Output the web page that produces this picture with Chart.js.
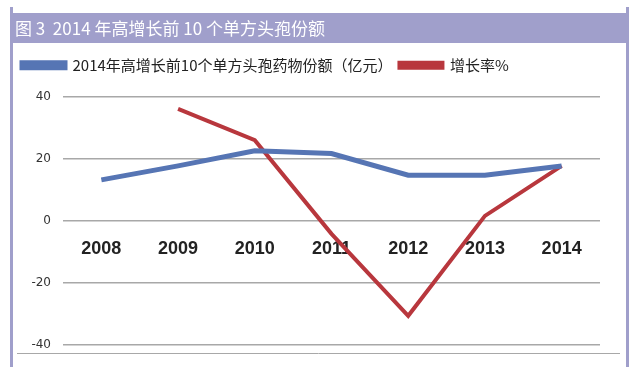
<!DOCTYPE html>
<html>
<head>
<meta charset="utf-8">
<script src="https://cdn.jsdelivr.net/npm/chart.js@4"></script>
<style>
  html, body { margin: 0; padding: 0; background: #fff; }
  #wrap { width: 632px; height: 367px; }
</style>
</head>
<body>
<div id="wrap"><canvas id="myChart"></canvas></div>
<script>
// data
const years = ['2008', '2009', '2010', '2011', '2012', '2013', '2014'];
const share = [13.2, 17.7, 22.6, 21.7, 14.7, 14.7, 17.7];
const growth = [null, 36.1, 26.0, -4.2, -30.6, 1.6, 17.7];
const yTicks = [-40, -20, 0, 20, 40];

const titleText = '图 3  2014 年高增长前 10 个单方头孢份额';
const shareName = '2014年高增长前10个单方头孢药物份额（亿元）';
const growthName = '增长率%';

const purple = '#a09fcb';
const blue = '#5675b4';
const red = '#b8373d';

// frame, header bar and the bottom rule of the original figure
const frame = {
	id: 'frame',
	beforeUpdate(chart) {
		// leave room between the legend and the plot
		const lg = chart.legend;
		if (lg && !lg._extraGap) {
			const fit = lg.fit;
			lg.fit = function () {
				fit.call(this);
				this.height += 14;
			};
			lg._extraGap = true;
		}
	},
	beforeDraw(chart) {
		const ctx = chart.ctx;
		const t = chart.titleBlock;
		ctx.save();
		ctx.fillStyle = purple;
		ctx.fillRect(10, 7, 3, chart.height - 7);
		ctx.fillRect(626, 7, 3, chart.height - 7);
		ctx.fillRect(10, t.top, 619, 30);
		ctx.strokeStyle = '#a8a8a8';
		ctx.lineWidth = 1;
		ctx.beginPath();
		ctx.moveTo(17, 353.5);
		ctx.lineTo(620, 353.5);
		ctx.stroke();
		ctx.restore();
	}
};

let myChart = new Chart(document.getElementById('myChart'), {
	type: 'line',
	data: {
		labels: years,
		datasets: [
			{
				label: shareName,
				data: share,
				borderColor: blue,
				backgroundColor: blue,
				borderWidth: 5,
				pointRadius: 0,
				tension: 0
			},
			{
				label: growthName,
				data: growth,
				borderColor: red,
				backgroundColor: red,
				borderWidth: 4,
				pointRadius: 0,
				tension: 0
			}
		]
	},
	options: {
		responsive: true,
		maintainAspectRatio: false,
		animation: false,
		layout: {
			padding: { top: 13, left: 15, right: 32, bottom: 22 }
		},
		plugins: {
			title: {
				display: true,
				text: titleText,
				align: 'start',
				color: '#ffffff',
				font: { family: '"Noto Sans CJK SC"', size: 17, weight: 'normal', lineHeight: 1.1 },
				padding: { top: 6, bottom: 13 }
			},
			legend: {
				display: true,
				align: 'start',
				labels: {
					boxWidth: 43,
					boxHeight: 5,
					padding: 7,
					color: '#222',
					font: { family: '"Noto Sans CJK SC"', size: 15 }
				}
			},
			tooltip: { enabled: false }
		},
		scales: {
			x: {
				position: { y: 0 },
				offset: true,
				grid: { display: false },
				border: { display: false },
				ticks: {
					padding: 9,
					color: '#222',
					font: { family: '"Liberation Sans"', size: 18, weight: 'bold' }
				}
			},
			y: {
				min: -40,
				max: 40,
				afterFit: s => { s.width = 48; },
				afterBuildTicks: s => { s.ticks = yTicks.map(v => ({ value: v })); },
				grid: { color: '#a8a8a8', lineWidth: 1.5, drawTicks: false },
				border: { display: false },
				ticks: {
					padding: 12,
					color: '#333',
					font: { family: '"DejaVu Sans"', size: 12 }
				}
			}
		}
	},
	plugins: [frame]
});
</script>
</body>
</html>
